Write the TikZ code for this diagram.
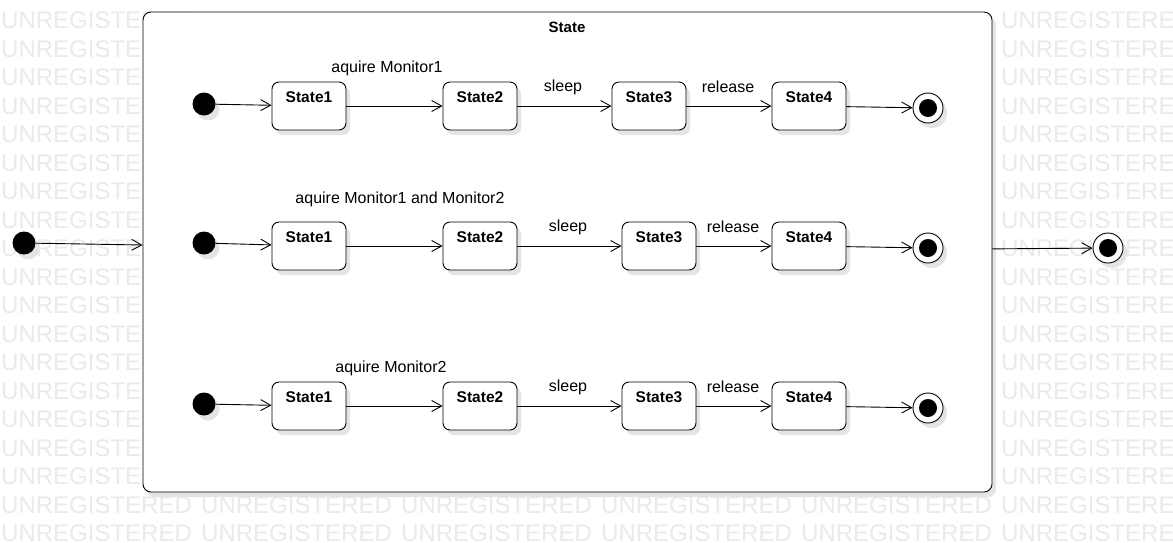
\documentclass[tikz,border=0pt]{standalone}
\usepackage{fontspec}
\setmainfont{Liberation Sans}
\usepackage{tikz}
\usetikzlibrary{arrows.meta,shadows}
\definecolor{wmark}{HTML}{EAEAEA}
\definecolor{shade}{HTML}{E4E4E4}
\tikzset{
  flow/.style={draw=black, line width=0.9pt, -{Straight Barb[length=10pt,width=11pt]}},
  shade/.style={drop shadow={shadow xshift=4pt, shadow yshift=-5pt, fill=shade, opacity=1}},
  statebox/.style={draw, line width=0.9pt, rounded corners=7pt, fill=white, shade,
    minimum width=74pt, inner sep=3pt, text height=17pt, text depth=25pt,
    font=\fontsize{15.5}{18}\selectfont\bfseries},
  outerbox/.style={draw, line width=0.9pt, rounded corners=8pt, fill=white, shade,
    minimum width=849pt, minimum height=480pt, inner sep=0pt},
  initdot/.style={circle, fill=black, minimum size=23pt, inner sep=0pt, shade},
  enddot/.style={circle, draw, line width=0.9pt, fill=white, minimum size=30pt, inner sep=0pt, shade},
  lab/.style={font=\fontsize{16}{19}\selectfont},
  wm/.style={text=wmark, inner sep=0pt, anchor=base west, font=\fontsize{24}{28}\selectfont},
}

\begin{document}
\begin{tikzpicture}[x=1pt, y=-1pt]
  \useasboundingbox (0,0) rectangle (1173,542);
  \fill[white] (0,0) rectangle (1173,542);
  \clip (0,0) rectangle (1173,542);

  % watermark (the copies under the box are left out)
  \foreach \r in {0,...,18}
    \foreach \c in {0,...,5}{
      \pgfmathtruncatemacro\hid{(\r<17)&&(\c>0)&&(\c<5)}
      \ifnum\hid=0
        \node[wm] (wm-\r-\c) at ({200*\c+1},{28.6+28.5*\r}) {UNREGISTERED};
      \fi
    }

  % composite state
  \node[outerbox] (state) at (567.5,252) {};
  \node[font=\fontsize{15}{18}\selectfont\bfseries] (title) at (567,27) {State};

  \node[initdot] (start) at (24,243) {};
  \node[enddot] (stop) at (1108,248) {};
  \draw[flow] (start) -- (state);
  \draw[flow] (state) -- (stop);

  % row 1
  \node[initdot] (ia) at (204,104) {};
  \node[statebox] (a1) at (309,106) {State1};
  \node[statebox] (a2) at (480,106) {State2};
  \node[statebox] (a3) at (649,106) {State3};
  \node[statebox] (a4) at (809,106) {State4};
  \node[enddot] (fa) at (928,108) {};
  \draw[flow] (ia) -- (a1);
  \draw[flow] (a1) -- (a2);
  \draw[flow] (a2) -- (a3);
  \draw[flow] (a3) -- (a4);
  \draw[flow] (a4) -- (fa);
  \node[lab] (la1) at (387,68) {aquire Monitor1};
  \node[lab] (la2) at (563,87) {sleep};
  \node[lab] (la3) at (728,87) {release};

  % row 2
  \node[initdot] (ib) at (204,243) {};
  \node[statebox] (b1) at (309,246) {State1};
  \node[statebox] (b2) at (480,246) {State2};
  \node[statebox] (b3) at (659,246) {State3};
  \node[statebox] (b4) at (809,246) {State4};
  \node[enddot] (fb) at (928,248) {};
  \draw[flow] (ib) -- (b1);
  \draw[flow] (b1) -- (b2);
  \draw[flow] (b2) -- (b3);
  \draw[flow] (b3) -- (b4);
  \draw[flow] (b4) -- (fb);
  \node[lab] (lb1) at (400,199) {aquire Monitor1 and Monitor2};
  \node[lab] (lb2) at (568,227) {sleep};
  \node[lab] (lb3) at (733,227) {release};

  % row 3
  \node[initdot] (ic) at (204,404) {};
  \node[statebox] (c1) at (309,406) {State1};
  \node[statebox] (c2) at (480,406) {State2};
  \node[statebox] (c3) at (659,406) {State3};
  \node[statebox] (c4) at (809,406) {State4};
  \node[enddot] (fc) at (928,408) {};
  \draw[flow] (ic) -- (c1);
  \draw[flow] (c1) -- (c2);
  \draw[flow] (c2) -- (c3);
  \draw[flow] (c3) -- (c4);
  \draw[flow] (c4) -- (fc);
  \node[lab] (lc1) at (391,368) {aquire Monitor2};
  \node[lab] (lc2) at (568,387) {sleep};
  \node[lab] (lc3) at (733,387) {release};

  % inner disks of the final states
  \fill (fa) circle (9);
  \fill (fb) circle (9);
  \fill (fc) circle (9);
  \fill (stop) circle (9);
\end{tikzpicture}
\end{document}
